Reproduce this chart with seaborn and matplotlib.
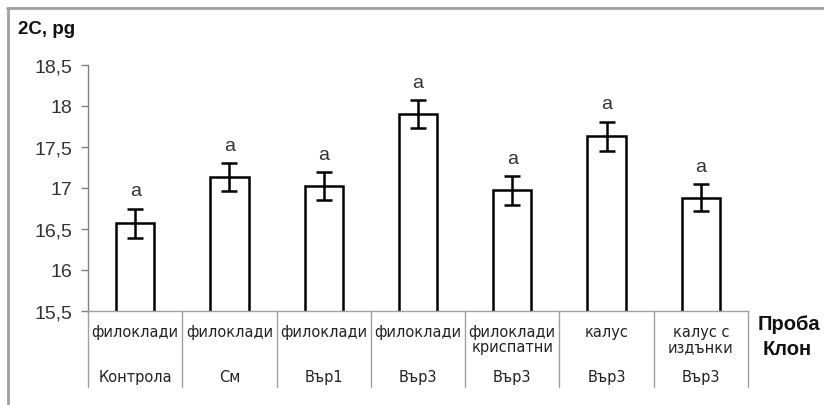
import matplotlib
matplotlib.use("Agg")
import matplotlib.pyplot as plt
import matplotlib.transforms as mtransforms
from matplotlib.lines import Line2D
import seaborn as sns
import pandas as pd

# ---- data ----
samples = ["филоклади", "филоклади", "филоклади", "филоклади",
           "филоклади\nкриспатни", "калус", "калус с\nиздънки"]
clones = ["Контрола", "См", "Вър1", "Вър3", "Вър3", "Вър3", "Вър3"]
values = [16.57, 17.13, 17.02, 17.90, 16.97, 17.63, 16.88]
errors = [0.177, 0.17, 0.17, 0.175, 0.175, 0.18, 0.165]
letters = ["a", "a", "a", "a", "a", "a", "a"]
yticks = [15.5, 16, 16.5, 17, 17.5, 18, 18.5]
ytick_labels = ["15,5", "16", "16,5", "17", "17,5", "18", "18,5"]
y_title = "2C, pg"
row_titles = ["Проба", "Клон"]

sns.set_style("white")
plt.rcParams["font.family"] = ["Liberation Sans", "DejaVu Sans"]

W, H = 824, 406
fig = plt.figure(figsize=(W / 100, H / 100), dpi=100)
ax_left, ax_right, ax_bottom, ax_top = 88, 748, 311.7, 66
ax = fig.add_axes([ax_left / W, 1 - ax_bottom / H, (ax_right - ax_left) / W, (ax_bottom - ax_top) / H])

keys = [f"{i}" for i in range(len(values))]
df = pd.DataFrame({"key": keys, "value": values})
sns.barplot(data=df, x="key", y="value", order=keys, width=0.405,
            color="white", edgecolor="black", linewidth=1.8, ax=ax,
            errorbar=None, saturation=1)
pos = list(range(len(values)))
ax.errorbar(pos, values, yerr=errors, fmt="none", ecolor="black",
            elinewidth=1.8, capsize=5.5, capthick=1.8, zorder=5)
for x, v, e, t in zip(pos, values, errors, letters):
    ax.annotate(t, xy=(x, v + e), xytext=(0, 9.5), textcoords="offset points",
                ha="center", va="baseline", fontsize=14, color="#333333")

ax.set_ylim(15.5, 18.5)
ax.set_xlim(-0.5, len(values) - 0.5)
ax.set_yticks(yticks)
ax.set_yticklabels(ytick_labels, fontsize=14, color="#333333")
ax.set_xticks([])
ax.set_xlabel("")
ax.set_ylabel("")
ax.tick_params(axis="y", direction="out", length=5, width=1, color="#808080", pad=6, left=True)
for s in ["top", "right"]:
    ax.spines[s].set_visible(False)
ax.spines["left"].set_color("#808080")
ax.spines["bottom"].set_color("#a0a0a0")
ax.spines["left"].set_linewidth(1)
ax.spines["bottom"].set_linewidth(1)

# category axis (two-level)
trans = mtransforms.blended_transform_factory(ax.transData, fig.transFigure)
for i in range(len(values) + 1):
    xb = i - 0.5
    ax.add_line(Line2D([xb, xb], [1 - ax_bottom / H, 1 - 388 / H], transform=trans,
                       color="#a0a0a0", lw=1, clip_on=False))
for x, s, c in zip(pos, samples, clones):
    ax.text(x, 1 - 325 / H, s, transform=trans, ha="center", va="top",
            fontsize=10.5, color="#222222", linespacing=1.0,
            family=["DejaVu Sans"])
    ax.text(x, 1 - 378 / H, c, transform=trans, ha="center", va="center",
            fontsize=10.5, color="#222222", family=["DejaVu Sans"])

fig.text(758 / W, 1 - 325 / H, row_titles[0], ha="left", va="center",
         fontsize=14.5, fontweight="bold", color="#111111")
fig.text(763 / W, 1 - 350 / H, row_titles[1], ha="left", va="center",
         fontsize=14.5, fontweight="bold", color="#111111")
fig.text(18 / W, 1 - 34 / H, y_title, ha="left", va="baseline",
         fontsize=13.5, fontweight="bold", color="#111111")

# outer frame (top and left only, as cropped)
fig.add_artist(Line2D([7 / W, 1], [1 - 9 / H, 1 - 9 / H], transform=fig.transFigure,
                      color="#a0a0a0", lw=2))
fig.add_artist(Line2D([8 / W, 8 / W], [0, 1 - 9 / H], transform=fig.transFigure,
                      color="#a0a0a0", lw=2))

fig.savefig("out.png", dpi=100, facecolor="white")
